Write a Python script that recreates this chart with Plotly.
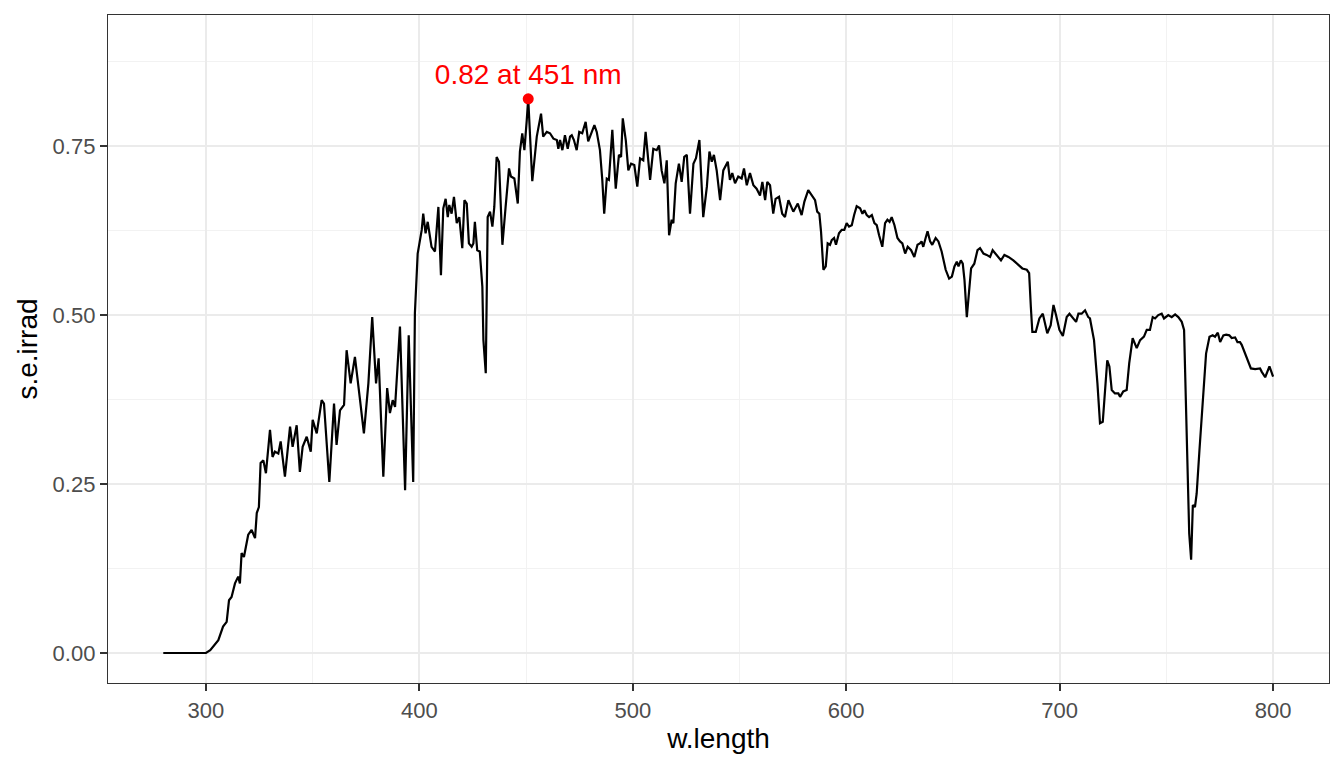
import plotly.graph_objects as go

# spectral irradiance (nm, W m-2 nm-1)
w_length = [
    280, 300, 302, 305.8, 308, 309.7, 310.8, 312, 313.6, 315.1, 315.9, 316.7, 317.8, 319.8, 321.4,
    323, 323.8, 324.8, 325.6, 326.9, 328.1, 330, 331.2, 332.3, 333.9, 335, 337, 339.4, 340.6, 342.5,
    344, 345.3, 347.2, 349.1, 350, 351.9, 354.2, 355.3, 357.8, 360, 361.2, 362.8, 364.7, 365.9, 367.8,
    369.8, 372.2, 374, 376.1, 377.9, 379.7, 380.9, 383.1, 384.9, 386.2, 387.5, 388.6, 390.9, 393.3, 395,
    397.1, 397.9, 399.2, 401.1, 401.8, 402.9, 403.9, 405.7, 407.3, 408.9, 410.1, 411.2, 412.3, 413.3, 414,
    415.1, 416.2, 417.5, 418.7, 420.1, 421.1, 422.2, 423.2, 424.5, 425.3, 426, 427.1, 428.3, 429.5, 430,
    431.1, 432, 433.1, 434.2, 435.1, 436.2, 437.3, 438.9, 440.4, 442, 442.9, 444.5, 446.1, 447.1, 448.2,
    449.2, 450.3, 451, 452.9, 455, 457, 458, 459.7, 461.2, 462.8, 464.4, 465.1, 465.9, 467, 468.2,
    469.5, 470.6, 471.4, 472.4, 473.7, 474.9, 476.3, 477.9, 479.1, 480.4, 482, 483.1, 484.6, 485.7, 486.6,
    487.8, 488.8, 490.4, 492, 493.5, 494.5, 495.3, 496.7, 497.9, 499.2, 500.7, 502.1, 503.4, 504.9, 506,
    508.1, 509.6, 511.2, 512.3, 513.5, 514.8, 515.9, 517, 518.2, 519, 520.1, 521.6, 522.9, 524.1, 525.3,
    526.8, 528.4, 529.6, 531.2, 533, 534.7, 535.9, 537, 538, 539.3, 540.9, 542.4, 544.5, 545.5, 546.6,
    547.9, 549.4, 551, 552.1, 553.4, 554.9, 556.5, 558, 559.6, 560.7, 562, 563, 564.3, 565.8, 566.9,
    568.5, 570, 571.3, 572.9, 575.2, 577.3, 579.1, 580.4, 582.2, 584.1, 585.4, 586.4, 587.4, 588.2, 589.3,
    590.4, 591.3, 592.4, 593.2, 594.3, 595.2, 596.6, 597.9, 599.1, 600.2, 601.3, 602.6, 603.7, 604.9, 606.5,
    607.6, 608.5, 609.6, 610.7, 612, 613.2, 614.3, 615.4, 616.9, 618.2, 619.3, 620.3, 621.3, 622.6, 624,
    625.2, 626.3, 627.6, 628.8, 630.4, 631.9, 633.4, 634.5, 635.3, 636.1, 637.2, 638.1, 639.3, 640.3, 641.9,
    643.2, 644.7, 646.6, 648.2, 649.5, 650.7, 651.8, 652.6, 653.7, 654.6, 655.4, 656.5, 657.6, 658.5, 660,
    661.5, 662.7, 664.3, 665.8, 667.4, 668.6, 670, 671.3, 672.5, 674.1, 676, 678.3, 680.7, 682.5, 684.6,
    685.7, 686.5, 687.2, 688.8, 690.5, 692.1, 694.2, 695.8, 697.1, 698.3, 699.9, 701.5, 703.3, 704.6, 706.4,
    707.7, 708.8, 710.3, 711.9, 713.4, 714.2, 716.1, 717.7, 718.9, 720.2, 721.3, 722.3, 723.3, 724.4, 725.9,
    727.5, 728.3, 729.8, 731.4, 732.6, 734.2, 736.1, 737.7, 739.5, 740.8, 742.3, 743.6, 744.7, 746.2, 747.8,
    748.9, 750.9, 752.5, 754.1, 755.6, 757.2, 758.3, 759.1, 759.9, 760.7, 761.6, 762.4, 763.4, 764.2, 765.5,
    767, 768.6, 770.2, 771.7, 772.8, 774.1, 775.2, 776.7, 778, 779.5, 780.6, 782.2, 783.3, 784.5, 785.3,
    786.9, 788.4, 789.6, 791.6, 793.9, 794.7, 796.3, 798.3, 800,
]
s_e_irrad = [
    0, 0, 0.004, 0.019, 0.039, 0.046, 0.078, 0.083, 0.103, 0.113, 0.103, 0.148, 0.142, 0.175, 0.182,
    0.170, 0.207, 0.216, 0.281, 0.285, 0.266, 0.330, 0.290, 0.298, 0.295, 0.313, 0.261, 0.335, 0.305, 0.337,
    0.268, 0.305, 0.320, 0.298, 0.345, 0.325, 0.374, 0.369, 0.253, 0.369, 0.308, 0.359, 0.367, 0.448, 0.399,
    0.438, 0.374, 0.325, 0.399, 0.497, 0.399, 0.436, 0.261, 0.392, 0.355, 0.374, 0.364, 0.483, 0.241, 0.470,
    0.253, 0.503, 0.591, 0.626, 0.650, 0.621, 0.638, 0.601, 0.594, 0.660, 0.559, 0.658, 0.672, 0.645, 0.663,
    0.650, 0.675, 0.636, 0.645, 0.599, 0.670, 0.665, 0.606, 0.601, 0.606, 0.638, 0.596, 0.594, 0.542, 0.463,
    0.414, 0.645, 0.653, 0.631, 0.660, 0.734, 0.727, 0.604, 0.660, 0.717, 0.705, 0.702, 0.665, 0.742, 0.769,
    0.744, 0.788, 0.820, 0.698, 0.764, 0.798, 0.764, 0.771, 0.769, 0.761, 0.759, 0.746, 0.759, 0.744, 0.766,
    0.746, 0.764, 0.766, 0.759, 0.744, 0.771, 0.769, 0.786, 0.757, 0.769, 0.781, 0.771, 0.744, 0.700, 0.650,
    0.702, 0.700, 0.774, 0.687, 0.737, 0.734, 0.791, 0.759, 0.714, 0.724, 0.722, 0.690, 0.732, 0.729, 0.771,
    0.700, 0.746, 0.744, 0.751, 0.714, 0.695, 0.729, 0.618, 0.641, 0.636, 0.695, 0.724, 0.697, 0.734, 0.737,
    0.650, 0.724, 0.732, 0.759, 0.645, 0.690, 0.742, 0.727, 0.737, 0.714, 0.670, 0.714, 0.727, 0.700, 0.710,
    0.695, 0.705, 0.702, 0.717, 0.692, 0.710, 0.692, 0.687, 0.677, 0.697, 0.670, 0.697, 0.692, 0.650, 0.672,
    0.675, 0.650, 0.645, 0.670, 0.653, 0.665, 0.648, 0.668, 0.685, 0.677, 0.670, 0.653, 0.650, 0.623, 0.567,
    0.572, 0.606, 0.604, 0.611, 0.614, 0.604, 0.621, 0.626, 0.626, 0.636, 0.631, 0.633, 0.648, 0.661, 0.658,
    0.650, 0.655, 0.648, 0.645, 0.648, 0.636, 0.633, 0.618, 0.601, 0.636, 0.641, 0.638, 0.645, 0.633, 0.614,
    0.609, 0.606, 0.591, 0.601, 0.596, 0.586, 0.604, 0.606, 0.609, 0.601, 0.614, 0.624, 0.609, 0.604, 0.614,
    0.609, 0.594, 0.567, 0.554, 0.557, 0.572, 0.579, 0.572, 0.581, 0.576, 0.552, 0.497, 0.542, 0.569, 0.576,
    0.596, 0.599, 0.591, 0.589, 0.586, 0.596, 0.591, 0.586, 0.581, 0.589, 0.586, 0.581, 0.574, 0.569, 0.567,
    0.562, 0.512, 0.475, 0.475, 0.495, 0.502, 0.473, 0.485, 0.515, 0.500, 0.478, 0.469, 0.497, 0.502, 0.495,
    0.490, 0.502, 0.502, 0.507, 0.497, 0.495, 0.463, 0.399, 0.340, 0.342, 0.394, 0.433, 0.424, 0.389, 0.384,
    0.384, 0.379, 0.387, 0.389, 0.429, 0.466, 0.451, 0.463, 0.468, 0.478, 0.478, 0.497, 0.495, 0.500, 0.502,
    0.495, 0.500, 0.497, 0.501, 0.497, 0.490, 0.478, 0.374, 0.251, 0.177, 0.138, 0.219, 0.216, 0.236, 0.300,
    0.374, 0.443, 0.468, 0.470, 0.468, 0.474, 0.460, 0.470, 0.471, 0.470, 0.466, 0.467, 0.460, 0.460, 0.456,
    0.443, 0.431, 0.421, 0.420, 0.421, 0.416, 0.408, 0.424, 0.409,
]

peak_wl = 451
peak_val = 0.82
peak_label = "0.82 at 451 nm"

x_ticks = [300, 400, 500, 600, 700, 800]
x_minor = [350, 450, 550, 650, 750]
y_ticks = [0.0, 0.25, 0.5, 0.75]
y_tick_labels = ["0.00", "0.25", "0.50", "0.75"]
y_minor = [0.125, 0.375, 0.625, 0.875]

fig = go.Figure()
fig.add_trace(go.Scatter(x=w_length, y=s_e_irrad, mode="lines",
                         line=dict(color="black", width=2.2), showlegend=False))
fig.add_trace(go.Scatter(x=[peak_wl], y=[peak_val], mode="markers+text",
                         marker=dict(color="red", size=11),
                         text=[peak_label], textposition="top center",
                         textfont=dict(color="red", size=28),
                         showlegend=False))

axis_common = dict(
    showline=True, linecolor="#333333", linewidth=1.3, mirror=True,
    ticks="outside", ticklen=7, tickwidth=1.6, tickcolor="#333333",
    tickfont=dict(size=22, color="#4D4D4D"),
    showgrid=True, gridcolor="#EBEBEB", gridwidth=2,
    zeroline=False,
)

fig.update_xaxes(**axis_common, range=[254.1, 826.2], tickvals=x_ticks,
                 minor=dict(showgrid=True, gridcolor="#F2F2F2", gridwidth=1,
                            tickvals=x_minor, ticks=""),
                 title=dict(text="w.length", font=dict(size=28, color="black"), standoff=6))
fig.update_yaxes(**axis_common, range=[-0.0444, 0.944], tickvals=y_ticks, ticktext=y_tick_labels,
                 minor=dict(showgrid=True, gridcolor="#F2F2F2", gridwidth=1,
                            tickvals=y_minor, ticks=""),
                 title=dict(text="s.e.irrad", font=dict(size=28, color="black"), standoff=6))

# page body adds ~8 px offset, so size and margins are trimmed for it
fig.update_layout(
    width=1336, height=760,
    plot_bgcolor="white", paper_bgcolor="white",
    font=dict(family="Liberation Sans, Arial, sans-serif"),
    margin=dict(l=100, r=15, t=7, b=85),
)

fig.write_html("out.html")
